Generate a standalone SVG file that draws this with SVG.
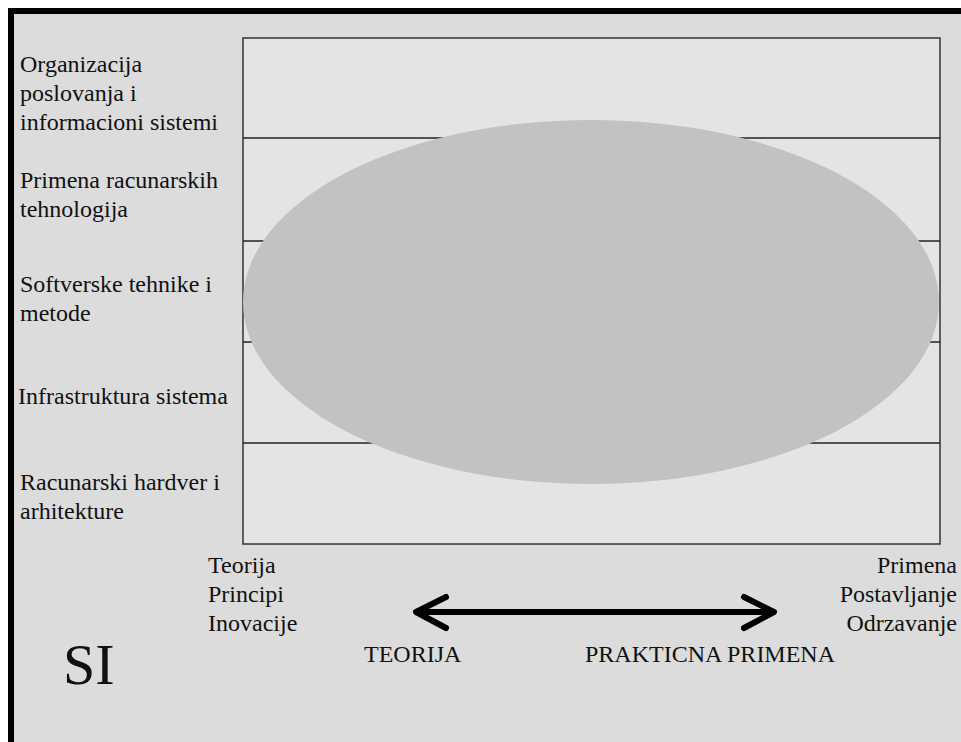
<svg xmlns="http://www.w3.org/2000/svg" width="961" height="742" viewBox="0 0 961 742">
<style>
text{font-family:"Liberation Serif","Times New Roman",serif;font-size:24px;fill:#111}
.row{stroke:#222;stroke-width:1.3}
.arr{stroke:#000;stroke-width:6;stroke-linecap:round;stroke-linejoin:round;fill:none}
</style>
<rect x="0" y="0" width="961" height="742" fill="#fff"/>
<rect x="8" y="8" width="953" height="734" fill="#dcdcdc"/>
<rect x="8" y="8" width="953" height="6" fill="#000"/>
<rect x="8" y="8" width="6" height="734" fill="#000"/>
<g id="grid">
<rect x="243" y="38" width="697" height="506" fill="#e4e4e4" stroke="#333" stroke-width="1.5"/>
<line class="row" x1="243" y1="138" x2="940" y2="138"/>
<line class="row" x1="243" y1="241" x2="940" y2="241"/>
<line class="row" x1="243" y1="342" x2="940" y2="342"/>
<line class="row" x1="243" y1="443" x2="940" y2="443"/>
</g>
<g id="ellipse"><ellipse cx="591" cy="302" rx="348" ry="182" fill="#c3c2c3"/></g>
<g id="labels">
<text x="20" y="72">Organizacija</text>
<text x="20" y="101">poslovanja i</text>
<text x="20" y="130">informacioni sistemi</text>
<text x="20" y="188">Primena racunarskih</text>
<text x="20" y="217">tehnologija</text>
<text x="20" y="292">Softverske tehnike i</text>
<text x="20" y="321">metode</text>
<text x="18" y="404">Infrastruktura sistema</text>
<text x="20" y="490">Racunarski hardver i</text>
<text x="20" y="519">arhitekture</text>
</g>
<g id="theory">
<text x="208" y="573">Teorija</text>
<text x="208" y="602">Principi</text>
<text x="208" y="631">Inovacije</text>
</g>
<g id="practice">
<text x="957" y="573" text-anchor="end">Primena</text>
<text x="957" y="602" text-anchor="end">Postavljanje</text>
<text x="957" y="631" text-anchor="end">Odrzavanje</text>
</g>
<g id="connectors">
<line class="arr" x1="418" y1="612" x2="772" y2="612"/>
<polyline class="arr" points="446,597 416,612 446,628"/>
<polyline class="arr" points="744,597 774,612 744,628"/>
</g>
<text x="364" y="662">TEORIJA</text>
<text x="585" y="662">PRAKTICNA PRIMENA</text>
<text x="63" y="684" style="font-size:58px">SI</text>
</svg>
